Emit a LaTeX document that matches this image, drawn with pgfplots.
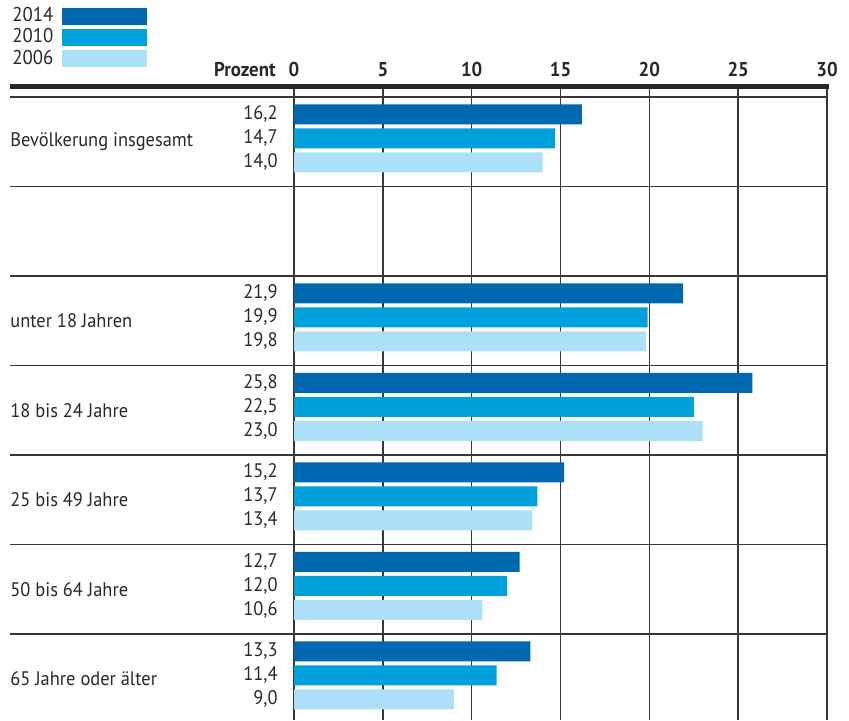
\documentclass[border=0pt]{standalone}
\usepackage{fontspec}
\setmainfont[FakeStretch=0.94]{PT Sans}
\usepackage{pgfplots}
\pgfplotsset{compat=1.18}
\usepackage{pgfplotstable}
\definecolor{c14}{RGB}{0,103,177}
\definecolor{c10}{RGB}{0,160,218}
\definecolor{c06}{RGB}{172,224,249}
\definecolor{txt}{RGB}{40,40,40}
\definecolor{gridc}{RGB}{55,55,55}

\pgfplotstableread{
g v14 v10 v06
0 16.2 14.7 14.0
2 21.9 19.9 19.8
3 25.8 22.5 23.0
4 15.2 13.7 13.4
5 12.7 12.0 10.6
6 13.3 11.4 9.0
}\data

\pgfplotsset{
  vallabel/.style={only marks, mark=*, mark size=0pt, mark options={draw=none,fill=none},
    point meta=explicit,
    nodes near coords={\pgfmathprintnumber[fixed,fixed zerofill,precision=1,use comma]{\pgfplotspointmeta}},
    nodes near coords align={anchor=east},
    every node near coord/.append style={inner sep=0pt, xshift=-8pt, text=txt, font=\fontsize{9.8}{11}\selectfont}},
}

\begin{document}
\begin{tikzpicture}[font=\fontsize{9.8}{11}\selectfont, text=txt]
\begin{axis}[
  at={(147pt,0pt)}, anchor=south west,
  scale only axis, width=266.5pt, height=317pt,
  xmin=0, xmax=30, ymin=-0.6229, ymax=6.461, y dir=reverse,
  clip=false,
  axis line style={draw=none},
  xtick={0,5,...,30}, xticklabel pos=upper,
  xmajorgrids, grid style={line width=0.75pt, gridc},
  major tick length=0,
  xticklabel style={font=\fontsize{10}{12}\selectfont\bfseries, inner sep=0pt, yshift=4.5pt, text=txt},
  /pgf/number format/assume math mode=true,
  ytick={0,2,3,4,5,6},
  yticklabels={Bevölkerung insgesamt, unter 18 Jahren, 18 bis 24 Jahre, 25 bis 49 Jahre, 50 bis 64 Jahre, 65 Jahre oder älter},
  yticklabel style={anchor=west, inner sep=0pt, xshift=-142pt, text=txt},
  legend plot pos=right,
  legend image code/.code={\fill[#1] (0pt,-4.25pt) rectangle (42.5pt,4.25pt);},
  legend style={draw=none, fill=none, inner sep=0pt, row sep=2pt, column sep=4.5pt,
    nodes={inner sep=0pt, anchor=west, text=txt, font=\fontsize{10}{12}\selectfont},
    at={(0,1)}, anchor=north west, xshift=-141pt, yshift=39.5pt},
]
\addplot[xbar, bar width=0.2235, bar shift=-0.307, fill=c14, draw=none] table[x=v14,y=g]{\data};
\addplot[xbar, bar width=0.2235, bar shift=-0.039, fill=c10, draw=none] table[x=v10,y=g]{\data};
\addplot[xbar, bar width=0.2235, bar shift=0.229, fill=c06, draw=none] table[x=v06,y=g]{\data};
\legend{2014,2010,2006}
\addplot[vallabel] table[x expr=0, y expr=\thisrow{g}-0.307, meta=v14]{\data};
\addplot[vallabel] table[x expr=0, y expr=\thisrow{g}-0.039, meta=v10]{\data};
\addplot[vallabel] table[x expr=0, y expr=\thisrow{g}+0.229, meta=v06]{\data};
\pgfplotsinvokeforeach{-0.5,0.5,1.5,2.5,3.5,4.5,5.5}{
  \draw[line width=0.75pt, gridc] (axis cs:-15.98,#1) -- (axis cs:30,#1);
}
\draw[line width=2.5pt, black!85] (axis cs:-15.98,-0.6229) -- (axis cs:30.1,-0.6229);
\node[anchor=south east, inner sep=0pt, font=\fontsize{10}{12}\selectfont\bfseries] at ([xshift=-9pt,yshift=4.5pt]axis description cs:0,1) {Prozent};
\end{axis}
\pgfresetboundingbox
\path (0,0) rectangle (424.5pt,360pt);
\end{tikzpicture}
\end{document}
